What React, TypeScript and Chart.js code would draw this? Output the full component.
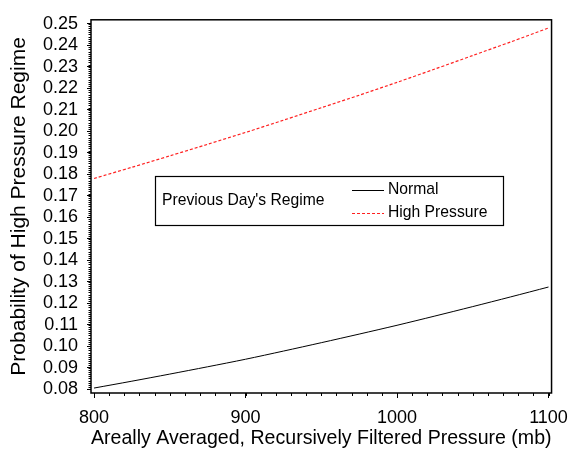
import React, { useEffect, useRef } from "react";
import { Chart, registerables } from "chart.js";

Chart.register(...registerables);

const pressure = [800, 825, 850, 875, 900, 925, 950, 975, 1000, 1025, 1050, 1075, 1100];
const normalProb = [0.0805, 0.0837, 0.087, 0.0904, 0.0939, 0.0977, 0.1016, 0.1056, 0.1097, 0.114, 0.1184, 0.1229, 0.1275];
const highProb = [0.178, 0.1832, 0.1885, 0.1939, 0.1994, 0.2051, 0.2109, 0.2167, 0.2227, 0.2289, 0.2352, 0.2415, 0.248];
const xTicks = [800, 900, 1000, 1100];
const yTicks = [0.08, 0.09, 0.1, 0.11, 0.12, 0.13, 0.14, 0.15, 0.16, 0.17, 0.18, 0.19, 0.2, 0.21, 0.22, 0.23, 0.24, 0.25];
const seriesNames = ["Normal", "High Pressure"];
const legendTitle = "Previous Day's Regime";

const FONT = "'Liberation Sans', Arial, Helvetica, sans-serif";

const framePlugin = {
  id: "frame",
  afterDraw(chart: any) {
    const { ctx, chartArea: a, scales } = chart;
    const x = scales.x;
    const y = scales.y;
    ctx.save();
    ctx.strokeStyle = "#000";
    ctx.lineWidth = 1.5;
    ctx.strokeRect(a.left, a.top, a.right - a.left, a.bottom - a.top);
    // minor ticks
    ctx.lineWidth = 1;
    ctx.beginPath();
    for (let v = xTicks[0]; v <= xTicks[xTicks.length - 1]; v += 10) {
      const px = Math.round(x.getPixelForValue(v)) + 0.5;
      ctx.moveTo(px, a.bottom);
      ctx.lineTo(px, a.bottom + 3);
    }
    for (let i = 80; i <= 250; i++) {
      const py = Math.round(y.getPixelForValue(i / 1000)) + 0.5;
      ctx.moveTo(a.left, py);
      ctx.lineTo(a.left - 2.5, py);
    }
    ctx.stroke();

    // legend box
    const bx = 155, by = 176, bw = 348, bh = 49;
    ctx.fillStyle = "#fff";
    ctx.fillRect(bx, by, bw, bh);
    ctx.lineWidth = 1.2;
    ctx.strokeStyle = "#000";
    ctx.strokeRect(bx + 0.5, by + 0.5, bw, bh);
    ctx.font = `15.7px ${FONT}`;
    ctx.fillStyle = "#000";
    ctx.textBaseline = "middle";
    ctx.textAlign = "left";
    ctx.fillText(legendTitle, 162, 201);
    const ds = chart.data.datasets;
    const rows = [190, 213];
    ds.forEach((d: any, i: number) => {
      ctx.beginPath();
      ctx.strokeStyle = d.borderColor;
      ctx.lineWidth = d.borderWidth;
      ctx.setLineDash(d.borderDash || []);
      ctx.moveTo(352, rows[i] + 0.5);
      ctx.lineTo(384, rows[i] + 0.5);
      ctx.stroke();
      ctx.setLineDash([]);
      ctx.fillStyle = "#000";
      ctx.fillText(d.label, 388, rows[i]);
    });
    ctx.restore();
  },
};

export default function App() {
  const ref = useRef<HTMLCanvasElement>(null);
  useEffect(() => {
    if (!ref.current) return;
    const chart = new Chart(ref.current, {
      type: "line",
      data: {
        datasets: [
          {
            label: seriesNames[0],
            data: pressure.map((p, i) => ({ x: p, y: normalProb[i] })),
            borderColor: "#000000",
            borderWidth: 1,
            pointRadius: 0,
            fill: false,
            tension: 0.3,
          },
          {
            label: seriesNames[1],
            data: pressure.map((p, i) => ({ x: p, y: highProb[i] })),
            borderColor: "#ff2020",
            borderWidth: 1.2,
            borderDash: [3, 2],
            pointRadius: 0,
            fill: false,
            tension: 0.3,
          },
        ],
      },
      options: {
        responsive: false,
        animation: false,
        layout: { padding: { top: 15, right: 20, left: 0, bottom: 0 } },
        plugins: { legend: { display: false }, tooltip: { enabled: false } },
        scales: {
          x: {
            type: "linear",
            min: 798,
            max: 1102,
            afterBuildTicks: (s: any) => {
              s.ticks = xTicks.map((v) => ({ value: v }));
            },
            afterFit: (s: any) => {
              s.height = 62;
            },
            grid: { drawOnChartArea: false, color: "#000", tickLength: 5, lineWidth: 1 },
            border: { display: false },
            ticks: {
              color: "#000",
              font: { family: FONT, size: 18 },
              padding: 9,
              maxRotation: 0,
              callback: (v: any) => String(v),
            },
            title: {
              display: true,
              text: "Areally Averaged, Recursively Filtered Pressure (mb)",
              color: "#000",
              font: { family: FONT, size: 21 },
              padding: { top: 4, bottom: 4 },
            },
          },
          y: {
            type: "linear",
            min: 0.0782,
            max: 0.2518,
            afterBuildTicks: (s: any) => {
              s.ticks = yTicks.map((v) => ({ value: v }));
            },
            afterFit: (s: any) => {
              s.width = 91;
            },
            grid: { drawOnChartArea: false, color: "#000", tickLength: 4, lineWidth: 1 },
            border: { display: false },
            ticks: {
              color: "#000",
              font: { family: FONT, size: 18 },
              padding: 9,
              autoSkip: false,
              callback: (v: any) => Number(v).toFixed(2),
            },
            title: {
              display: true,
              text: "Probability of High Pressure Regime",
              color: "#000",
              font: { family: FONT, size: 21 },
              padding: { top: 7, bottom: 7 },
            },
          },
        },
      },
      plugins: [framePlugin],
    });
    return () => chart.destroy();
  }, []);
  return (
    <div style={{ position: "absolute", left: 0, top: 0, width: 577, height: 455, background: "#fff" }}>
      <canvas ref={ref} width={577} height={455} />
    </div>
  );
}
